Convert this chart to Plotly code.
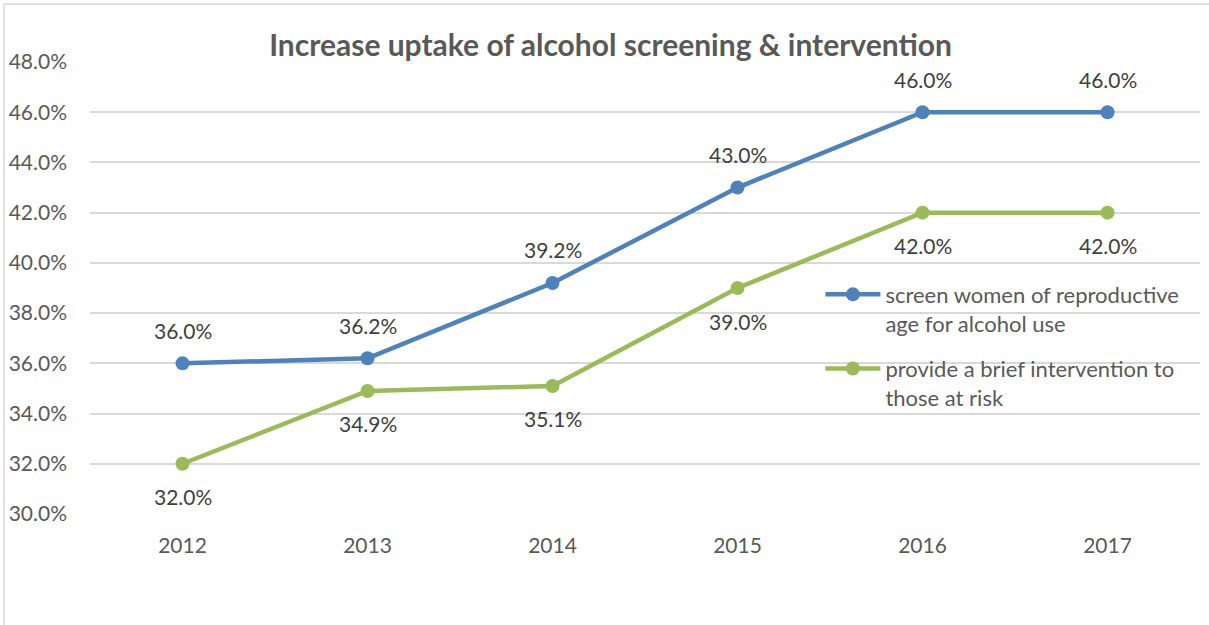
import plotly.graph_objects as go

years = ["2012", "2013", "2014", "2015", "2016", "2017"]
screen_women = [0.360, 0.362, 0.392, 0.430, 0.460, 0.460]
brief_intervention = [0.320, 0.349, 0.351, 0.390, 0.420, 0.420]
y_ticks = [0.30, 0.32, 0.34, 0.36, 0.38, 0.40, 0.42, 0.44, 0.46, 0.48]

BLUE = "#4F81BD"
GREEN = "#9BBB59"
FONT = "Lato"

fig = go.Figure()
fig.add_trace(go.Scatter(
    x=years, y=screen_women, mode="lines+markers", legendgroup="a",
    name="screen women of reproductive<br>age for alcohol use",
    line=dict(color=BLUE, width=4.5), marker=dict(color=BLUE, size=14),
))
fig.add_trace(go.Scatter(
    x=years, y=brief_intervention, mode="lines+markers", legendgroup="b",
    name="provide a brief intervention to<br>those at risk",
    line=dict(color=GREEN, width=4.5), marker=dict(color=GREEN, size=14),
))

# value labels: above the blue series, below the green series
# (category positions given by index so numeric-looking years stay categories)
for ys, shift in ((screen_women, 33), (brief_intervention, -33)):
    for i, y in enumerate(ys):
        fig.add_annotation(x=i, y=y, xref="x", yref="y", text=f"{y*100:.1f}%",
                           showarrow=False, yshift=shift,
                           font=dict(family=FONT, size=21, color="#404040"))

# outer chart frame
fig.add_shape(type="rect", xref="paper", yref="paper",
              x0=-0.0775, x1=1.5, y0=-0.5, y1=1.128,
              line=dict(color="#D9D9D9", width=1.5), layer="below")

fig.update_layout(
    width=1209, height=625,
    margin=dict(l=90, r=9, t=62, b=111),
    paper_bgcolor="white", plot_bgcolor="white",
    title=dict(text="<b>Increase uptake of alcohol screening &amp; intervention</b>",
               x=0.505, xanchor="center", y=0.928, yanchor="middle",
               font=dict(family=FONT, size=30, color="#595959")),
    font=dict(family=FONT, size=21, color="#595959"),
    showlegend=True,
    legend=dict(x=0.658, y=0.532, xanchor="left", yanchor="top",
                bgcolor="rgba(0,0,0,0)", tracegroupgap=14, itemwidth=55,
                valign="top",
                font=dict(family=FONT, size=22, color="#595959")),
    xaxis=dict(type="category", range=[-0.5, 5.5], showgrid=False,
               showline=False, ticks="", ticklabelstandoff=17,
               tickfont=dict(size=21)),
    yaxis=dict(range=[0.30, 0.48], tickvals=y_ticks, tickformat=".1%",
               showgrid=True, gridcolor="#D9D9D9", gridwidth=1.5,
               zeroline=False, showline=False, ticks="",
               ticklabelstandoff=22, tickfont=dict(size=21)),
)

fig.write_html("out.html")
